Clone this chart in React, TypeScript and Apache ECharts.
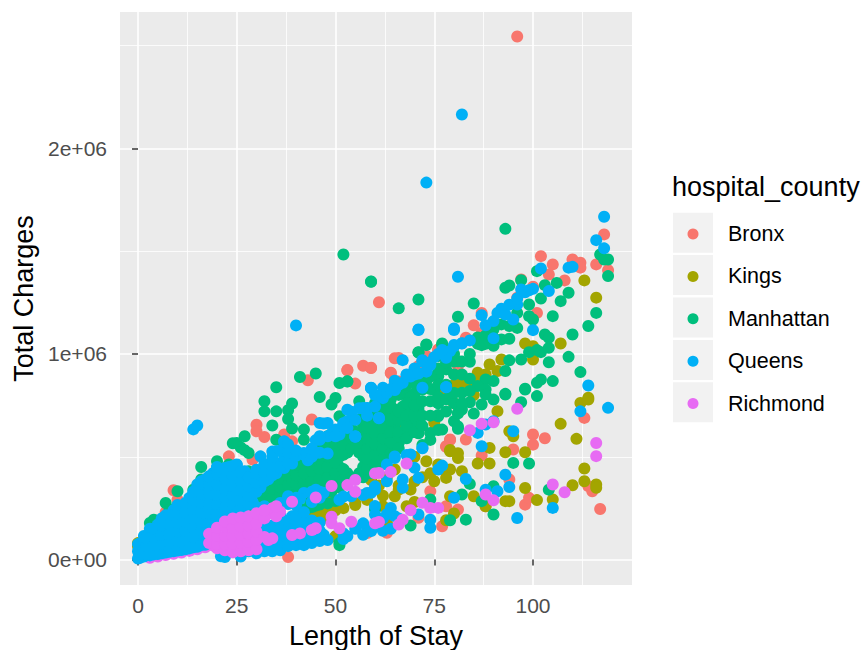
import React, { useEffect, useRef } from "react";
import * as echarts from "echarts";

// Individual points: [length of stay in days, total charges in thousands of dollars]
const bronx: number[][] = [
  [96,2545],[61,1252],[53,921],[57,943],[59,932],[43,872],[55,856],[30,656],[30,624],[32,596],[44,681],[23,502],[37,608],[20,405],[9,337],[7,230],[10,291],[38,12],[29,486],[33,454],[39,575],[58,129],
  [102,1476],[105,1436],[104,1387],[110,1460],[112,1444],[112,1420],[116,1436],[118,1582],[119,1408],[108,1358],[97,1363],[100,1327],[96,1274],[101,1200],[87,1200],[85,1140],[87,1103],[83,1079],[76,1022],[66,981],[73,990],[59,933],[64,909],[71,941],[81,941],[65,860],[90,1136],
  [79,584],[83,584],[78,551],[100,608],[103,590],[100,559],[113,689],[95,535],[87,506],[94,389],[74,332],[78,259],[81,243],[77,162],[71,203],[63,130],[98,267],[99,300],[114,357],[115,332],[117,246],[88,259],
  [53,922],[64,906],[65,979],[71,939],[76,1020],[73,979],[66,866],[79,582],[78,549],
];
const kings: number[][] = [
  [0,64],[0,80],[1,80],[51,543],[60,608],[57,600],[59,397],[48,316],[55,275],[47,202],[39,181],[49,227],[50,113],[32,48],[43,210],[46,216],[41,192],[58,589],[59,387],[50,111],
  [113,1358],[116,1274],[107,1051],[98,1051],[100,1038],[100,973],[92,973],[89,949],[91,917],[86,909],[82,860],[80,844],[77,827],[114,787],
  [91,722],[112,762],[114,778],[107,660],[111,587],[94,624],[95,600],[89,543],[93,522],[98,522],[86,467],[89,467],[81,494],[79,527],[73,478],[76,462],[79,438],[82,430],[78,397],[75,381],[113,443],[113,381],[116,365],[116,349],[110,361],[98,348],[101,289],[105,292],[93,284],[94,284],[88,259],[85,308],[79,308],[69,340],[65,308],[68,259],[80,224],[78,191],[63,178],[60,421],[65,438],[75,665],[67,649],[79,778],
  [60,540],[65,585],[70,640],[75,690],[80,760],[85,800],[65,687],[80,849],[82,858],[79,533],[81,517],[76,817],[61,470],[70,500],[72,400],[66,360],[62,260],[70,280],
  [39,200],[41,205],[44,212],[47,225],[50,240],[52,250],[55,265],[58,290],[62,310],[66,340],[70,380],[74,420],[77,440],[84,870],[86,890],[88,900],[61,360],[63,400],
];
const manhattan: number[][] = [
  [52,1484],[59,1353],[35,838],[41,888],[45,905],[51,859],[53,867],[46,791],[50,786],[49,754],[32,770],[32,721],[35,721],[39,759],[38,726],[38,684],[34,652],[39,637],[27,600],[25,567],[28,518],[26,545],[16,450],[20,478],[20,446],[23,462],[10,332],[14,340],[7,275],[8,243],[4,194],[3,178],[35,583],[42,632],[42,583],[56,770],[51,697],[58,660],[19,389],[16,389],[51,80],[30,48],[21,194],[28,429],
  [93,1609],[59,1351],[66,1222],[71,1265],[85,1246],[81,1181],[97,1359],[93,1322],[94,1333],[101,1403],[103,1335],[106,1346],[109,1298],[107,1257],[102,1270],[99,1241],[96,1200],[99,1184],[100,1168],[105,1184],[92,1144],[94,1136],[96,1127],[92,1071],[94,1074],[90,1079],[87,1043],[73,1046],[77,1051],[71,1009],[76,990],[81,965],[84,962],[78,925],[76,892],[73,868],[72,827],[68,803],[70,803],[94,969],[97,973],[99,1009],[101,1019],[102,1009],[104,960],[103,1095],[104,1079],[104,1030],[110,1095],[114,1136],[116,1200],[109,986],[112,912],[105,868],[102,876],[101,860],[98,831],[101,795],[93,806],[93,917],[88,876],[90,868],[86,844],[88,827],[82,811],[117,1484],[119,1460],[118,1460],[119,1379],
  [93,803],[98,827],[97,765],[88,803],[90,778],[87,754],[85,710],[84,765],[81,713],[80,673],[81,636],[79,795],[76,762],[76,697],[77,632],[74,616],[71,616],[69,616],[67,811],[64,746],[69,746],[71,730],[70,673],[65,657],[62,616],[60,584],[66,567],[64,559],[60,503],[95,470],[99,467],[90,357],[84,368],[82,316],[87,284],[90,219],[104,340],[83,194],[79,191],[69,165],[74,292],[60,243],
  [71,1007],[73,1044],[76,906],[80,963],[82,963],[77,1044],[53,866],[62,776],[66,801],[70,809],[75,825],[64,728],[68,744],[71,744],[76,760],[76,703],[76,630],[81,711],[81,647],[74,582],[72,557],[41,241],[43,250],[45,262],[48,273],[50,285],[37,420],[51,70],[24,566],[27,532],[42,245],[44,255],[46,268],
];
const queens: number[][] = [
  [82,2165],[73,1834],[40,1139],[14,633],[15,652],[118,1668],[116,1554],[118,1514],[81,1376],[71,1119],[80,1124],[87,1189],[88,1140],[90,1076],[92,1220],[93,1192],[95,1168],[96,1241],[97,1314],[100,1317],[104,1306],[102,1416],[109,1420],[110,1424],[100,1116],[84,1066],[82,1051],[80,1038],[79,1014],[78,982],[67,970],[72,970],[74,946],[73,917],[68,900],[70,900],[67,860],[65,827],[62,836],[59,836],[61,795],[72,836],[78,839],[114,847],
  [61,689],[72,543],[86,616],[88,657],[90,673],[87,551],[95,624],[112,721],[119,738],[93,413],[94,353],[91,332],[88,340],[80,300],[83,392],[76,438],[77,457],[71,397],[70,446],[65,494],[63,462],[69,511],[67,389],[67,349],[63,381],[60,340],[105,251],[96,202],[71,219],[74,194],[74,154],[64,251],[65,211],[60,219],[59,138],
  [59,835],[58,737],[57,737],[53,729],[53,673],[50,632],[48,664],[46,664],[51,608],[48,600],[46,583],[55,600],[37,575],[31,502],[35,527],[39,502],[42,518],[45,518],[39,467],[43,483],[25,462],[35,462],[30,437],[33,413],[25,405],[22,394],[16,381],[27,373],[17,324],[22,308],[25,308],[15,267],[11,227],[19,275],[9,186],[6,145],[5,97],[2,64],[1,32],[0.5,8],
  [38,308],[42,324],[45,340],[32,259],[39,210],[28,145],[30,113],[35,64],[40,97],[46,97],[51,291],[54,308],[58,324],[60,356],[53,113],[59,145],[26,24],[21,16],[14,81],[15,97],[13,64],
  [60,800],[65,870],[70,930],[75,985],[77,1020],[47,120],[62,140],[64,150],[68,898],[73,914],[72,963],[80,1044],[82,1052],[80,1117],[71,1117],[59,833],[62,785],[65,825],[58,736],[56,736],[61,687],[52,663],[55,598],[78,838],[72,541],[65,501],[68,509],
  [30,411],[33,435],[36,468],[34,525],[42,510],[48,516],[37,573],[45,581],[49,614],[52,662],[54,719],[57,735],[60,744],[55,597],[47,662],
  [50,600],[53,640],[55,680],[58,700],[62,800],[63,810],[64,830],[66,850],[69,890],[71,905],[74,960],[76,1000],[90,1160],[91,1200],[94,1240],[96,1270],[98,1300],[99,1310],
  [60,160],[60,260],[62,200],[63,220],[66,200],
];
const richmond: number[][] = [
  [39,281],[45,302],[49,358],[53,362],[55,387],[55,330],[60,419],[33,95],[34,103],[39,119],[41,127],[44,143],[45,152],[49,208],[49,176],[51,152],[54,184],[60,176],
  [34,249],[36,233],[33,224],[29,208],
  [96,733],[87,660],[90,668],[84,629],[68,467],[64,426],[61,421],[116,567],[116,503],[105,365],[108,327],[88,316],[90,288],[72,276],[74,251],[76,251],[69,240],[61,183],[67,194],[66,170],
];
// Richmond stays drawn beneath Queens along the very bottom of the crowd
const richmondBeneath: number[][] = [
  [3,8],[5,15],[7,22],[9,28],[11,34],[13,42],[15,50],[17,60],[19,68],
];

// Dense stretches, one list per day: [day, charges in $k, charges in $k, ...]
const queensColumns: number[][] = [
  [0,5,40,75],[1.5,15,45,85,115],[3,20,45,85,125,150],[5,27,50,90,130,170],[7,34,55,100,145,190,215],[9,40,60,105,150,195,240],[11,46,70,115,160,205,250],[13,54,75,120,165,210,255,300],[15,62,90,135,180,225,270,315,365],[17,72,115,160,205,250,295,340,390],[19,160,200,250,295,340,395,420],[21,190,240,290,340,390,440],[23,220,265,310,355,400,450],[25,240,280,325,370,415,460],[27,260,300,345,390,430],[29,280,320,365,410],[31,350,395],[33,390,430],[35,420],[37,445,490],
  [2,25,65,105],[4,25,70,110,150],[6,30,75,120,165,200],[8,38,80,125,170,215],[10,44,90,135,180,225,265],[12,50,95,140,185,230,275],[14,60,110,155,200,245,290,330],[16,70,140,185,230,275,320,370],[18,120,180,225,270,320,365,405],[20,175,220,270,315,365,415,450],[22,205,250,300,345,395,445],[24,230,270,315,360,405,455],[26,250,290,335,380,425],[28,270,310,355,400],[30,330,375,420],[32,380,425,465],[34,410,455,500],[36,450,530],[38,470,520,560],[40,505,530],[44,500,540],[46,520,600],
  [22,12],[26,15],[30,30],[34,40],
  [28,40,90,130,175],[30,70,110,150],[32,40,80,130,170,215],[34,45,130,165],[36,45,85,120,150,180,215,275],[38,65,100,130,150,190,270,300],[40,70,120,160,175,215,265,300],[42,70,105,130,180,230],[44,80,110,150,190,280],[46,90,140,180,300,330],[48,95],[52,127,100],[55,150],[57,176,120],[59,143],[52,306],[57,314],[59,325],[41,295],[44,330],[47,325],[30,255],[35,250],
];
const manhattanColumns: number[][] = [
  [29,260,300],[31,300,340],[33,310,350],[35,290,330,380],[37,290,330,380],[39,295,340,385,430],[41,300,345,390,440],[43,300,350,400,450,490],[45,310,360,410,460,510,533],[47,320,370,420,470,520,570],[49,330,380,430,480,530,580],[51,350,400,450,500,550,600],[53,370,420,520,570,620],[55,390,540,590],[57,400,450,500,550,600,650],[59,420,470,520,570,620,670,720],[61,450,500,550,600,650,700],[63,500,550,600,650,700,750],[65,550,600,671,730],[67,614,680,744],[69,660,720,790],[71,614,860],
  [30,290,330],[32,290,330,370],[34,300,345,385],[36,310,350,395,435],[38,320,365,410,455],[40,320,365,410,460],[42,320,370,420,470],[44,330,380,430,480],[46,340,390,440,490,540],[48,350,400,450,500,550,600],[50,370,420,470,520,570,620],[52,390,440,510,560,610,650],[54,400,540,590,640],[56,420,520,570,620,680],[58,440,490,540,590,640,700],[60,460,510,560,610,660,710,760],[62,490,540,590,640,690,730],[64,520,570,620,680,780],[66,540,600,620,680,720,840],[68,590,650,700,760,850],[70,620,700,750,860],[72,650,700,770,880],[74,700,770,830,890],[76,790,850,930],[78,720,780,850,960],[80,760,810,900,1000],[82,730,760,900],[84,820,880,1000],[86,1050,1080],[88,1050,1090],[90,1040,1120],
];
const richmondColumns: number[][] = [
  [18,80,125],[20,55,75,115,155],[22,45,75,115,160,185],[24,35,75,115,155,200],[26,40,80,120,160,205],[28,45,85,125,165,210],[30,50,95,135,175,225],[32,110,200,240],[35,210,259],
];

const countyNames = ["Bronx", "Kings", "Manhattan", "Queens", "Richmond"];
const countyColors = ["#F8766D", "#A3A500", "#00BF7D", "#00B0F6", "#E76BF3"];
const expand = (cols: number[][]) => cols.flatMap(([d, ...cs]) => cs.map((c) => [d, c]));
const layers: [number, number[][]][] = [
  [0, bronx], [1, kings], [2, [...manhattan, ...expand(manhattanColumns)]], [4, richmondBeneath],
  [3, [...queens, ...expand(queensColumns)]], [4, [...richmond, ...expand(richmondColumns)]],
];
const xTicks = [0, 25, 50, 75, 100];
const xMinor = [12.5, 37.5, 62.5, 87.5, 112.5];
const yTicks = [0, 1000000, 2000000];
const yMinor = [500000, 1500000, 2500000];
const yTickLabels = ["0e+00", "1e+06", "2e+06"];

const X_MIN = -4.56, X_MAX = 125.06, Y_MIN = -124000, Y_MAX = 2664000;

export default function App() {
  const ref = useRef<HTMLDivElement>(null);
  useEffect(() => {
    const chart = echarts.init(ref.current!, null, { renderer: "svg" });
    const font = "Liberation Sans";
    const minorAxis = {
      show: true, axisLine: { show: false }, axisLabel: { show: false },
      splitLine: { show: true, lineStyle: { color: "#FFFFFF", width: 0.8 } },
    };
    const keys = countyNames.map((_, i) => ({
      type: "rect", shape: { x: 673, y: 212.7 + i * 42.4, width: 40, height: 40 },
      style: { fill: "#F2F2F2" }, silent: true, z: -1,
    }));
    chart.setOption({
      animation: false,
      backgroundColor: "#FFFFFF",
      textStyle: { fontFamily: font },
      title: { text: "hospital_county", left: 672, top: 173, padding: 0,
        textStyle: { fontFamily: font, fontWeight: "normal", fontSize: 27, color: "#000000" } },
      graphic: keys,
      legend: {
        left: 687.5, top: 222, orient: "vertical", padding: 0, itemWidth: 11, itemHeight: 11,
        itemGap: 18.4, selectedMode: false,
        data: countyNames.map((n) => ({ name: n, icon: "circle" })),
        textStyle: { fontFamily: font, fontSize: 21.5, color: "#000000", lineHeight: 24, padding: [0, 0, 0, 24.5] },
      },
      grid: { left: 120, top: 12, width: 512, height: 573, backgroundColor: "#EBEBEB", show: true, borderWidth: 0, outerBoundsMode: "none" },
      xAxis: [
        {
          type: "value", min: X_MIN, max: X_MAX, name: "Length of Stay", nameLocation: "middle", nameGap: 37,
          nameTextStyle: { fontFamily: font, fontSize: 27, color: "#000000" },
          axisLine: { show: false },
          axisTick: { show: true, length: 6, customValues: xTicks, lineStyle: { color: "#333333", width: 1.5 } },
          axisLabel: { show: true, customValues: xTicks, margin: 10, fontSize: 21, color: "#4D4D4D", fontFamily: font, formatter: (v: number) => String(v) },
          splitLine: { show: true, lineStyle: { color: "#FFFFFF", width: 1.6 } },
        },
        { ...minorAxis, type: "value", min: X_MIN, max: X_MAX, position: "top",
          axisTick: { show: false, customValues: xMinor } },
      ],
      yAxis: [
        {
          type: "value", min: Y_MIN, max: Y_MAX, name: "Total Charges", nameLocation: "middle", nameGap: 79,
          nameTextStyle: { fontFamily: font, fontSize: 27, color: "#000000" },
          axisLine: { show: false },
          axisTick: { show: true, length: 6, customValues: yTicks, lineStyle: { color: "#333333", width: 1.5 } },
          axisLabel: { show: true, customValues: yTicks, margin: 13, fontSize: 21, color: "#4D4D4D", fontFamily: font,
            formatter: (v: number) => yTickLabels[yTicks.indexOf(v)] },
          splitLine: { show: true, lineStyle: { color: "#FFFFFF", width: 1.6 } },
        },
        { ...minorAxis, type: "value", min: Y_MIN, max: Y_MAX, position: "right",
          axisTick: { show: false, customValues: yMinor } },
      ],
      series: layers.map(([c, pts]) => ({
        name: countyNames[c], type: "scatter", xAxisIndex: 0, yAxisIndex: 0, symbol: "circle", symbolSize: 12,
        itemStyle: { color: countyColors[c], opacity: 1 }, silent: true,
        data: pts.map(([d, v]) => [d, v * 1000]),
      })),
    });
    return () => chart.dispose();
  }, []);
  return <div ref={ref} style={{ position: "fixed", left: 0, top: 0, width: 861, height: 650 }} />;
}
